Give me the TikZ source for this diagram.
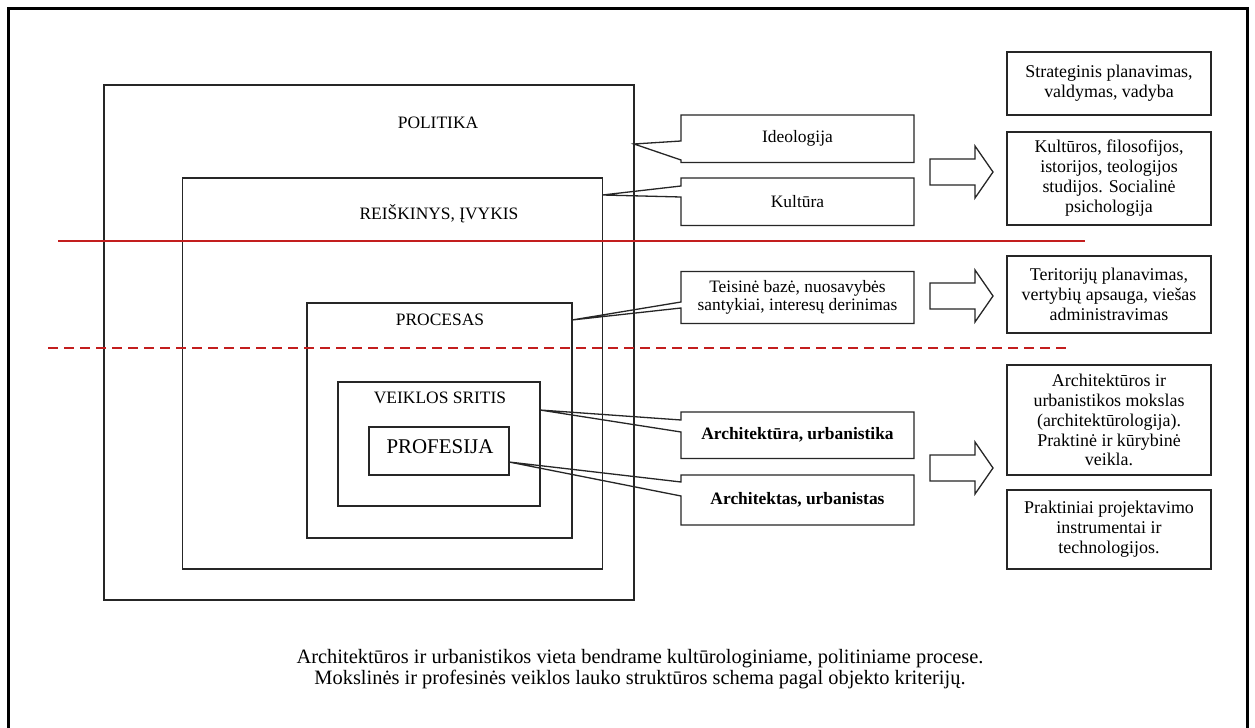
\documentclass[tikz,border=0pt]{standalone}
\usepackage{fontspec}
\setmainfont{Liberation Serif}
\begin{document}
\begin{tikzpicture}[x=1bp,y=-1bp,
  frame/.style={draw=black!85,line width=1.3bp,inner sep=0pt,outer sep=0pt,anchor=north west},
  lbl/.style={inner sep=0pt,font=\fontsize{17.5}{20}\selectfont},
  call/.style={draw=none,inner sep=0pt,outer sep=0pt,anchor=north west,minimum width=233bp,align=center,font=\fontsize{17.5}{18.5}\selectfont},
  callline/.style={draw=black!85,line width=1.3bp,line join=miter},
  rbox/.style={draw=black!85,line width=1.3bp,inner sep=0pt,outer sep=0pt,anchor=north west,minimum width=204bp,align=center,font=\fontsize{18}{20}\selectfont},
  barrow/.style={draw=black!85,line width=1.3bp,line join=miter},
  redline/.style={draw={rgb,255:red,195;green,30;blue,30},line width=2bp}]
\useasboundingbox (0,0) rectangle (1255,728);
\fill[white] (0,0) rectangle (1255,728);
% outer page frame
\draw[line width=3bp,black] (8.5,728) -- (8.5,8.5) -- (1247,8.5) -- (1247,728);

% nested boxes
\node[frame,minimum width=530bp,minimum height=515bp] (pol) at (104,85) {};
\node[lbl] (polt) at (438,123) {POLITIKA};
\node[frame,minimum width=420bp,minimum height=391bp] (rei) at (182.5,178) {};
\node[lbl] (reit) at (439,214) {REIŠKINYS, ĮVYKIS};
\node[frame,minimum width=265bp,minimum height=235bp] (proc) at (307,303) {};
\node[lbl] (proct) at (440,320) {PROCESAS};
\node[frame,minimum width=202bp,minimum height=124bp] (veik) at (338,382) {};
\node[lbl] (veikt) at (440,398) {VEIKLOS SRITIS};
\node[frame,minimum width=140bp,minimum height=48bp] (prof) at (369,427) {};
\node[lbl,font=\fontsize{21}{24}\selectfont] (proft) at (440,447) {PROFESIJA};

% red lines
\draw[redline] (58,241) -- (1085,241);
\draw[redline,dash pattern=on 10bp off 6bp] (48,348) -- (1072,348);

% callouts
\node[call,minimum height=47.5bp] (ideo) at (681,115) {Ideologija};
\coordinate (t1) at (pol.east |- 0,144);
\draw[callline] (ideo.north west) -- (ideo.north east) -- (ideo.south east) -- (ideo.south west) -- (681,160) -- (t1) -- (681,141) -- cycle;

\node[call,minimum height=47.5bp] (kult) at (681,178) {Kultūra};
\coordinate (t2) at (rei.east |- 0,195);
\draw[callline] (kult.north west) -- (kult.north east) -- (kult.south east) -- (kult.south west) -- (681,197) -- (t2) -- (681,186) -- cycle;

\node[call,minimum height=52bp] (teis) at (681,271.5) {Teisinė bazė, nuosavybės\\santykiai, interesų derinimas};
\coordinate (t3) at (proc.east |- 0,320);
\draw[callline] (teis.north west) -- (teis.north east) -- (teis.south east) -- (teis.south west) -- (681,308) -- (t3) -- (681,302) -- cycle;

\node[call,minimum height=46.5bp,font=\fontsize{17.5}{20}\selectfont\bfseries] (arch) at (681,412) {Architektūra, urbanistika};
\coordinate (t4) at (veik.east |- 0,410);
\draw[callline] (arch.north west) -- (arch.north east) -- (arch.south east) -- (arch.south west) -- (681,432) -- (t4) -- (681,420) -- cycle;

\node[call,minimum height=50bp,font=\fontsize{17.5}{20}\selectfont\bfseries] (archt) at (681,475) {Architektas, urbanistas};
\coordinate (t5) at (prof.east |- 0,462);
\draw[callline] (archt.north west) -- (archt.north east) -- (archt.south east) -- (archt.south west) -- (681,496) -- (t5) -- (681,482) -- cycle;

% block arrows
\foreach \c in {172,296,468}{
  \draw[barrow] (930,\c-13) -- (975,\c-13) -- (975,\c-26) -- (993,\c) -- (975,\c+26) -- (975,\c+13) -- (930,\c+13) -- cycle;
}

% right boxes
\node[rbox,minimum height=63bp] (r1) at (1007,52) {Strateginis planavimas,\\valdymas, vadyba};
\node[rbox,minimum height=93bp] (r2) at (1007,132) {Kultūros, filosofijos,\\istorijos, teologijos\\studijos. Socialinė\\psichologija};
\node[rbox,minimum height=77bp] (r3) at (1007,256) {Teritorijų planavimas,\\vertybių apsauga, viešas\\administravimas};
\node[rbox,minimum height=110bp] (r4) at (1007,365) {Architektūros ir\\urbanistikos mokslas\\(architektūrologija).\\Praktinė ir kūrybinė\\veikla.};
\node[rbox,minimum height=79bp] (r5) at (1007,490) {Praktiniai projektavimo\\instrumentai ir\\technologijos.};

% caption
\node[align=center,inner sep=0pt,font=\fontsize{20.5}{21}\selectfont] (cap) at (640,669) {Architektūros ir urbanistikos vieta bendrame kultūrologiniame, politiniame procese.\\Mokslinės ir profesinės veiklos lauko struktūros schema pagal objekto kriterijų.};
\end{tikzpicture}
\end{document}
